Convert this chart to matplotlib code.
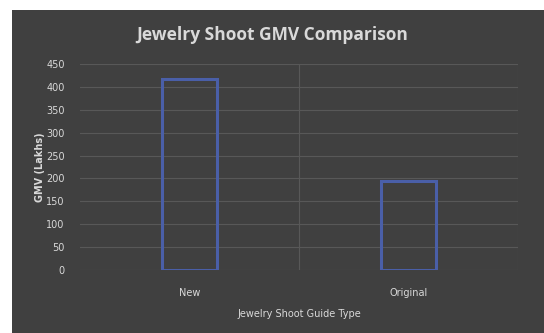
import matplotlib
matplotlib.use("Agg")
import matplotlib.pyplot as plt
from matplotlib.patches import Rectangle

categories = ["New", "Original"]
gmv_values = [418, 194]
y_ticks = [0, 50, 100, 150, 200, 250, 300, 350, 400, 450]

BG = "#404040"
TXT = "#d9d9d9"
GRID = "#585858"
EDGE = "#4a5fa8"

fig = plt.figure(figsize=(5.44, 3.33), dpi=100, facecolor="white")
# dark chart panel
fig.patches.append(Rectangle((12/544, 0), 1 - 12/544, 1 - 10/333,
                             transform=fig.transFigure, facecolor=BG,
                             edgecolor="none", zorder=-5))

ax = fig.add_axes([80/544, 1 - 270/333, (518-80)/544, (270-64)/333])
ax.set_facecolor(BG)
x = list(range(len(categories)))
ax.bar(x, gmv_values, width=0.25, facecolor="none", edgecolor=EDGE,
       linewidth=2.2, zorder=3)
ax.set_xlim(-0.5, 1.5)
ax.set_ylim(0, 450)
ax.set_yticks(y_ticks)
ax.set_yticklabels([str(t) for t in y_ticks])
ax.set_xticks(x)
ax.set_xticklabels(categories)
ax.grid(axis="y", color=GRID, linewidth=0.8, zorder=0)
ax.axvline(0.5, color=GRID, linewidth=0.8, zorder=0)
ax.axvline(1.5, color=GRID, linewidth=0.8, zorder=0)
for s in ax.spines.values():
    s.set_visible(False)
ax.tick_params(axis="both", length=0, colors=TXT, labelsize=7)
ax.tick_params(axis="x", pad=13)
ax.tick_params(axis="y", pad=11)
ax.set_xlabel("Jewelry Shoot Guide Type", color=TXT, fontsize=7, labelpad=8)
ax.set_ylabel("GMV (Lakhs)", color=TXT, fontsize=7, fontweight="bold", labelpad=1)

fig.text(272/544, 1 - 35/333, "Jewelry Shoot GMV Comparison", ha="center",
         va="center", color=TXT, fontsize=12.5, fontweight="bold",
         family=["Open Sans", "DejaVu Sans"])

fig.savefig("out.png", dpi=100, facecolor="white")
